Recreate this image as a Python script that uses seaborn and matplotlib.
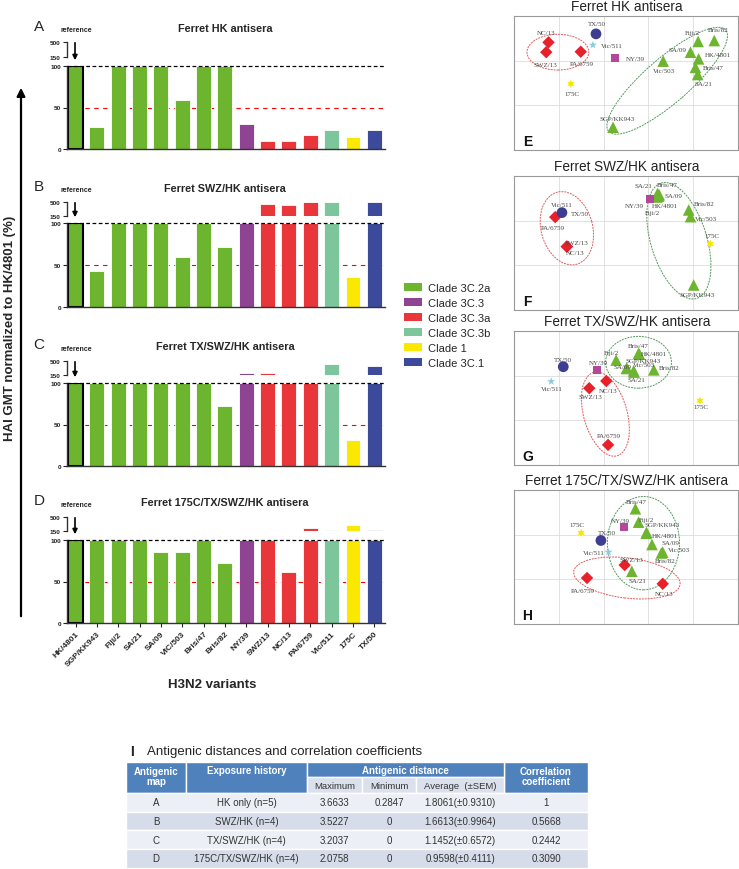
import matplotlib.pyplot as plt
import numpy as np
import seaborn as sns
from matplotlib.patches import Ellipse, Patch, Rectangle

sns.set_theme(style='ticks')
plt.rcParams['font.family'] = ['Liberation Sans', 'DejaVu Sans']

# H3N2 variants, bar order, and their clades
variants = ['HK/4801', 'SGP/KK943', 'Fiji/2', 'SA/21', 'SA/09', 'VIC/503', 'Bris/47', 'Bris/82',
            'NY/39', 'SWZ/13', 'NC/13', 'PA/6759', 'Vic/511', '175C', 'TX/50']
map_names = ['HK/4801', 'SGP/KK943', 'Fiji/2', 'SA/21', 'SA/09', 'Vic/503', 'Bris/47', 'Bris/82',
             'NY/39', 'SWZ/13', 'NC/13', 'PA/6759', 'Vic/511', '175C', 'TX/50']
clades = ['Clade 3C.2a'] * 8 + ['Clade 3C.3', 'Clade 3C.3a', 'Clade 3C.3a', 'Clade 3C.3a',
                                'Clade 3C.3b', 'Clade 1', 'Clade 3C.1']
clade_order = ['Clade 3C.2a', 'Clade 3C.3', 'Clade 3C.3a', 'Clade 3C.3b', 'Clade 1', 'Clade 3C.1']

# HAI GMT normalized to HK/4801 (%)
hai_A = [100, 26, 100, 100, 100, 59, 100, 100, 30, 10, 10, 17, 23, 14, 23]
hai_B = [100, 43, 100, 100, 100, 60, 100, 72, 100, 445, 425, 500, 500, 36, 500]
hai_C = [100, 100, 100, 100, 100, 100, 100, 72, 205, 205, 100, 100, 435, 31, 380]
hai_D = [100, 100, 100, 100, 86, 86, 100, 72, 100, 100, 61, 222, 172, 305, 180]

# antigenic map coordinates (grid units, y up)
map_E_x = [4.12, 2.21, 4.11, 4.10, 3.94, 3.33, 4.05, 4.47, 2.26, 0.72, 0.77, 1.49, 1.76, 1.27, 1.83]
map_E_y = [2.04, 0.51, 2.43, 1.69, 2.19, 1.99, 1.85, 2.45, 2.05, 2.19, 2.41, 2.20, 2.35, 1.48, 2.60]
map_F_x = [3.23, 4.01, 3.19, 3.20, 3.24, 3.94, 3.21, 3.90, 3.04, 1.18, 1.18, 0.92, 1.07, 4.38, 1.07]
map_F_y = [2.55, 0.56, 2.53, 2.60, 2.58, 2.09, 2.60, 2.24, 2.49, 1.42, 1.42, 2.08, 2.19, 1.48, 2.18]
map_G_x = [2.80, 2.52, 2.28, 2.68, 2.51, 2.67, 2.78, 3.12, 1.86, 1.68, 2.06, 2.10, 0.83, 4.15, 1.10]
map_G_y = [2.48, 2.17, 2.35, 2.08, 2.16, 2.11, 2.50, 2.13, 2.13, 1.72, 1.88, 0.45, 1.87, 1.44, 2.20]
map_H_x = [2.95, 2.96, 2.78, 2.63, 3.08, 3.32, 2.71, 3.29, 2.45, 2.47, 3.32, 1.63, 2.11, 1.50, 1.94]
map_H_y = [2.03, 2.05, 2.28, 1.18, 1.78, 1.61, 2.58, 1.59, 2.17, 1.32, 0.90, 1.03, 1.61, 2.04, 1.87]

# table I
tab_map = ['A', 'B', 'C', 'D']
tab_history = ['HK only (n=5)', 'SWZ/HK (n=4)', 'TX/SWZ/HK (n=4)', '175C/TX/SWZ/HK (n=4)']
tab_max = [3.6633, 3.5227, 3.2037, 2.0758]
tab_min = [0.2847, 0, 0, 0]
tab_avg = [1.8061, 1.6613, 1.1452, 0.9598]
tab_sem = [0.9310, 0.9964, 0.6572, 0.4111]
tab_corr = [1, 0.5668, 0.2442, 0.3090]

bar_colors = {'Clade 3C.2a': '#6db52f', 'Clade 3C.3': '#8e4393', 'Clade 3C.3a': '#e8363a',
              'Clade 3C.3b': '#7dc59b', 'Clade 1': '#fae800', 'Clade 3C.1': '#3b4a9a'}
map_colors = {'Clade 3C.2a': '#6db52f', 'Clade 3C.3': '#b5479a', 'Clade 3C.3a': '#e8202a',
              'Clade 3C.3b': '#86cde0', 'Clade 1': '#f7e600', 'Clade 3C.1': '#3d3e92'}
map_markers = {'Clade 3C.2a': '^', 'Clade 3C.3': 's', 'Clade 3C.3a': 'D',
               'Clade 3C.3b': '*', 'Clade 1': (6, 1, 0), 'Clade 3C.1': 'o'}
map_sizes = {'Clade 3C.2a': 70, 'Clade 3C.3': 34, 'Clade 3C.3a': 40,
             'Clade 3C.3b': 38, 'Clade 1': 36, 'Clade 3C.1': 60}

W, H = 739, 870
fig = plt.figure(figsize=(W / 100, H / 100), dpi=100)


def px_axes(x0, y0, x1, y1):
    return fig.add_axes([x0 / W, 1 - y1 / H, (x1 - x0) / W, (y1 - y0) / H])


def fmt(v):
    return str(int(v)) if v == int(v) else f'{v:.4f}'


# ---- bar panels A-D (broken y axis) ----
bar_panels = [
    ('A', 'Ferret HK antisera', hai_A, 43, 58, 67, 150, 29),
    ('B', 'Ferret SWZ/HK antisera', hai_B, 203, 217, 224, 308, 189),
    ('C', 'Ferret TX/SWZ/HK antisera', hai_C, 362, 376, 384, 467, 347),
    ('D', 'Ferret 175C/TX/SWZ/HK antisera', hai_D, 518, 532, 541, 624, 503),
]
palette = [bar_colors[c] for c in clades]
texts = []
for letter, title, vals, y500, y150, y100, y0, ytitle in bar_panels:
    low = px_axes(67, y100, 385, y0)
    up = px_axes(67, y500, 385, y150)
    for ax, v in ((low, np.minimum(vals, 100)), (up, vals)):
        sns.barplot(x=variants, y=v, hue=variants, palette=palette, order=variants,
                    hue_order=variants, saturation=1, width=0.7, errorbar=None,
                    legend=False, edgecolor='white', linewidth=0.6, ax=ax)
        ax.set_xlim(-0.4, 14.5)
        ax.set_facecolor('none')
        ax.tick_params(axis='y', length=3, width=0.8, labelsize=4.6, pad=1.5, colors='#222222')
        for s in ax.spines.values():
            s.set_linewidth(1.0)
            s.set_color('#333333')
    low.patches[0].set_edgecolor('black')
    low.patches[0].set_linewidth(1.5)
    low.set_ylim(0, 100)
    low.set_yticks([0, 50, 100])
    up.set_ylim(150, 500)
    up.set_yticks([150, 500])
    sns.despine(ax=low)
    sns.despine(ax=up, bottom=True)
    up.set_xticks([])
    low.axhline(100, color='black', ls=(0, (3, 2)), lw=0.9, zorder=5, clip_on=False)
    low.axhline(50, color='red', ls=(0, (4, 4)), lw=0.8, zorder=0.5)
    if letter == 'D':
        low.set_xticks(range(len(variants)))
        low.set_xticklabels(variants, rotation=45, ha='right', rotation_mode='anchor',
                            fontsize=6, fontweight='bold')
        low.tick_params(axis='x', length=3, width=0.8, pad=2)
    else:
        low.set_xticks([])
    for ax in (low, up):
        for lab in ax.get_yticklabels():
            lab.set_fontweight('bold')
    texts.append((letter, title, y500, y100, ytitle))

# ---- antigenic maps E-H ----
maps = [
    ('E', 'Ferret HK antisera', map_E_x, map_E_y, 17,
     [(19, 4), (4, 9), (-6, 9), (6, -9), (-13, 3), (1, -9), (18, 0), (4, 11),
      (20, 0), (-1, -12), (-2, 10), (1, -12), (19, 0), (1, -10), (1, 10)],
     [(0.98, 2.19, 1.38, 0.80, 0, '#e05a5a'), (3.42, 1.55, 3.46, 1.0, 41, '#4e9a5a')]),
    ('F', 'Ferret SWZ/HK antisera', map_F_x, map_F_y, 177,
     [(6, -9), (3, -10), (-4, -16), (-14, 8), (14, -1), (15, -2), (9, 9), (15, 6),
      (-16, -7), (10, 4), (8, -6), (-2, -10), (0, 8), (2, 8), (18, -1)],
     [(1.18, 1.83, 1.67, 1.15, 105, '#e05a5a'), (3.68, 1.55, 2.7, 1.25, 107, '#4e9a5a')]),
    ('G', 'Ferret TX/SWZ/HK antisera', map_G_x, map_G_y, 332,
     [(14, 1), (16, 8), (-5, 8), (2, -7), (-4, 2), (10, 6), (0, 8), (15, 2),
      (1, 7), (1, -8), (2, -9), (1, 9), (1, -7), (1, -6), (0, 7)],
     [(2.78, 2.30, 1.47, 1.16, 0, '#4e9a5a'), (2.04, 1.14, 1.94, 0.97, 105.6, '#e05a5a')]),
    ('H', 'Ferret 175C/TX/SWZ/HK antisera', map_H_x, map_H_y, 491,
     [(19, -2), (16, 8), (8, 3), (6, -9), (18, 2), (16, 3), (1, 7), (4, -8),
      (-3, 7), (7, 6), (1, -10), (-4, -13), (-15, 0), (-4, 8), (6, 8)],
     [(2.89, 1.81, 1.61, 2.09, 0, '#4e9a5a'), (2.52, 1.03, 2.39, 0.90, -7, '#e05a5a')]),
]
map_titles = []
for letter, title, mx, my, top, offs, ells in maps:
    ax = px_axes(514, top, 738, top + 134)
    ax.set_xlim(0, 5)
    ax.set_ylim(0, 3)
    ax.set_xticks(range(6))
    ax.set_yticks(range(4))
    ax.tick_params(length=0, labelbottom=False, labelleft=False)
    ax.grid(True, color='#dddddd', lw=0.6)
    for s in ax.spines.values():
        s.set_color('#999999')
        s.set_linewidth(0.8)
    for cx, cy, w, h, ang, col in ells:
        ax.add_patch(Ellipse((cx, cy), w, h, angle=ang, fill=False, ls=(0, (2, 1)),
                             lw=0.7, edgecolor=col, zorder=1))
    sns.scatterplot(x=mx, y=my, hue=clades, style=clades, size=clades, palette=map_colors,
                    markers=map_markers, sizes=map_sizes, hue_order=clade_order,
                    style_order=clade_order, size_order=clade_order, linewidth=0,
                    legend=False, ax=ax, zorder=3)
    for name, x, y, (dx, dy) in zip(map_names, mx, my, offs):
        ax.annotate(name, (x, y), xytext=(dx * 0.72, dy * 0.72), textcoords='offset points',
                    ha='center', va='center', fontsize=5, family='Liberation Serif',
                    color='#444444', zorder=4)
    ax.text(0.06, 0.07, letter, transform=ax.transAxes, ha='center', va='center',
            fontsize=10, fontweight='bold', color='#111111')
    map_titles.append((title, top))

# ---- legend ----
handles = [Patch(facecolor=bar_colors[c], edgecolor='none') for c in clade_order]
fig.legend(handles, clade_order, loc='upper left', bbox_to_anchor=(404 / W, 1 - 284 / H),
           frameon=False, fontsize=8, handlelength=1.6, handleheight=0.7,
           handletextpad=0.6, labelspacing=0.45, borderpad=0, borderaxespad=0)

# ---- overlay for free text and table ----
ov = fig.add_axes([0, 0, 1, 1])
ov.set_xlim(0, W)
ov.set_ylim(H, 0)
ov.axis('off')

for letter, title, y500, y100, ytitle in texts:
    ov.text(39, ytitle - 2, letter, fontsize=11, ha='center', va='center')
    ov.text(76, y500 - 12, 'reference', fontsize=5, fontweight='bold', ha='center', va='center')
    ov.annotate('', xy=(75, y100 - 3), xytext=(75, y500 - 2),
                arrowprops=dict(arrowstyle='-|>', lw=1.2, color='black', mutation_scale=7))
    ov.text(225, ytitle, title, fontsize=7.8, fontweight='bold', ha='center', va='center')

ov.text(10, 328, 'HAI GMT normalized to HK/4801 (%)', rotation=90, fontsize=9.5,
        fontweight='bold', ha='center', va='center')
ov.annotate('', xy=(21, 86), xytext=(21, 620),
            arrowprops=dict(arrowstyle='-|>', lw=1.6, color='black', mutation_scale=12))
ov.text(212, 685, 'H3N2 variants', fontsize=9.5, fontweight='bold', ha='center', va='center')

for title, top in map_titles:
    ov.text(627, top - 10, title, fontsize=9.8, ha='center', va='center', color='#222222')

# table I
ov.text(132, 752, 'I', fontsize=10, fontweight='bold', ha='center', va='center')
ov.text(147, 752, 'Antigenic distances and correlation coefficients', fontsize=9.5,
        ha='left', va='center', color='#222222')
cols = [126, 186, 307, 362, 416, 504, 588]
blue = '#4f81bd'
sub = '#dbe1ec'
row_bg = ['#eceff5', '#d6dce9', '#eceff5', '#d6dce9']
hdr_top, sub_top, hdr_bot = 763, 778, 794
for x0, x1 in ((cols[0], cols[1]), (cols[1], cols[2]), (cols[5], cols[6])):
    ov.add_patch(Rectangle((x0, hdr_top), x1 - x0, hdr_bot - hdr_top, facecolor=blue,
                           edgecolor='white', lw=1))
ov.add_patch(Rectangle((cols[2], hdr_top), cols[5] - cols[2], sub_top - hdr_top,
                       facecolor=blue, edgecolor='white', lw=1))
for i in range(2, 5):
    ov.add_patch(Rectangle((cols[i], sub_top), cols[i + 1] - cols[i], hdr_bot - sub_top,
                           facecolor=sub, edgecolor='white', lw=1))
hdr_kw = dict(color='white', fontsize=7, fontweight='bold', ha='center', va='center')
ov.text((cols[0] + cols[1]) / 2, 777, 'Antigenic\nmap', linespacing=1.1, **hdr_kw)
ov.text((cols[1] + cols[2]) / 2, 771, 'Exposure history', **hdr_kw)
ov.text((cols[2] + cols[5]) / 2, 771, 'Antigenic distance', **hdr_kw)
ov.text((cols[5] + cols[6]) / 2, 777, 'Correlation\ncoefficient', linespacing=1.1, **hdr_kw)
for i, lab in enumerate(['Maximum', 'Minimum', 'Average  (±SEM)']):
    ov.text((cols[i + 2] + cols[i + 3]) / 2, 787, lab, fontsize=6.8, color='#333333',
            ha='center', va='center')
row_h = 18.7
for r in range(len(tab_map)):
    y0 = hdr_bot + r * row_h
    ov.add_patch(Rectangle((cols[0], y0), cols[-1] - cols[0], row_h, facecolor=row_bg[r],
                           edgecolor='white', lw=1))
    cells = [tab_map[r], tab_history[r], fmt(tab_max[r]), fmt(tab_min[r]),
             f'{tab_avg[r]:.4f}(±{tab_sem[r]:.4f})', fmt(tab_corr[r])]
    for c, txt in enumerate(cells):
        ov.text((cols[c] + cols[c + 1]) / 2, y0 + row_h / 2, txt, fontsize=7,
                color='#333333', ha='center', va='center')

fig.savefig('out.png', dpi=100)
